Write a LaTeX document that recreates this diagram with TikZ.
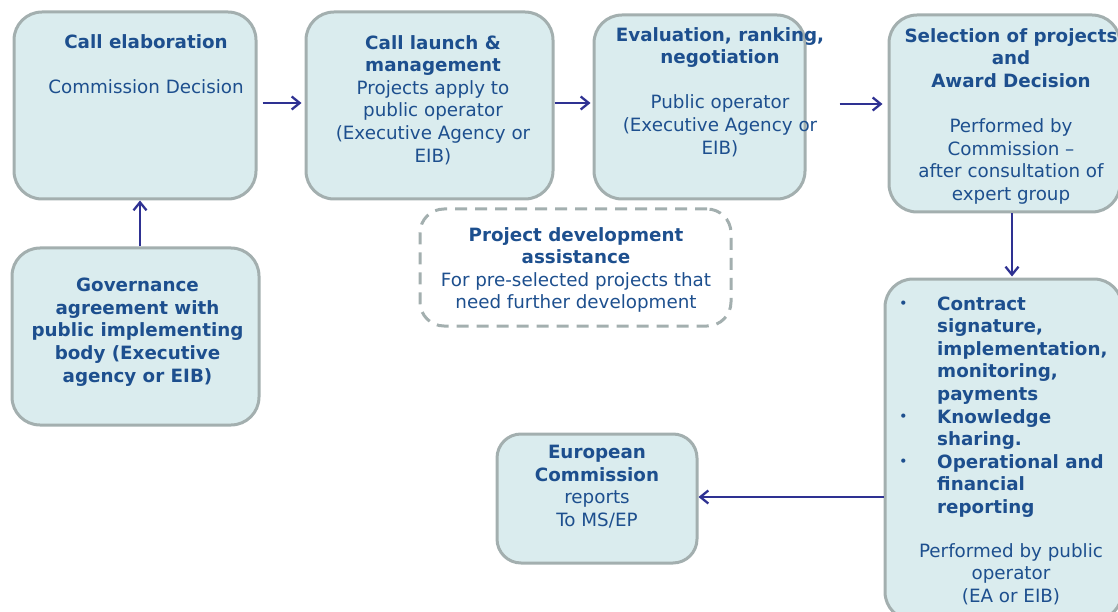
\documentclass[tikz,border=0pt]{standalone}
\usepackage{fontspec}
\setmainfont{DejaVu Sans}
\usetikzlibrary{arrows.meta}
\definecolor{boxfill}{HTML}{DAECEE}
\definecolor{boxline}{HTML}{A3AFAF}
\definecolor{txt}{HTML}{1D4F8E}
\definecolor{arr}{HTML}{2E3192}
\newcommand{\smbul}{\raisebox{2pt}{\fontsize{14.5}{14.5}\selectfont\textbullet}}
\begin{document}
\begin{tikzpicture}[x=1pt,y=-1pt,
  box/.style={draw=boxline, fill=boxfill, line width=3pt, rounded corners=28pt, inner sep=0pt},
  dashbox/.style={draw=boxline, line width=3pt, rounded corners=24pt, dash pattern=on 12pt off 8pt, inner sep=0pt},
  lbl/.style={text=txt, align=center, inner sep=0pt, anchor=north, font=\fontsize{18.3}{22.6}\selectfont},
  flow/.style={draw=arr, line width=2.3pt, -{Straight Barb[length=8pt,width=13pt,line width=2.3pt]}}]
\useasboundingbox (0,0) rectangle (1118,612);

% boxes
\node[box, minimum width=242pt, minimum height=187pt] (b1) at (135,105.5) {};
\node[box, minimum width=247pt, minimum height=187pt] (b2) at (429.5,105.5) {};
\node[box, minimum width=211pt, minimum height=184pt] (b3) at (699.5,107) {};
\node[box, minimum width=231pt, minimum height=197pt] (b4) at (1004.5,113.5) {};
\node[box, minimum width=247pt, minimum height=177pt] (b5) at (135.5,336.5) {};
\node[dashbox, minimum width=311pt, minimum height=117pt] (b6) at (575.5,267.5) {};
\node[box, rounded corners=24pt, minimum width=200pt, minimum height=129pt] (b7) at (597,498.5) {};
\node[box, minimum width=237pt, minimum height=341pt] (b8) at (1003.5,449.5) {};

% texts
\node[lbl] (t1) at (146,34) {\textbf{Call elaboration}\\[22.6pt]Commission Decision};
\node[lbl] (t2) at (433,35) {\textbf{Call launch \&}\\\textbf{management}\\Projects apply to\\public operator\\(Executive Agency or\\EIB)};
\node[lbl] (t3) at (720,27) {\textbf{Evaluation, ranking,}\\\textbf{negotiation}\\[22.6pt]Public operator\\(Executive Agency or\\EIB)};
\node[lbl] (t4) at (1011,28) {\textbf{Selection of projects}\\\textbf{and}\\\textbf{Award Decision}\\[22.6pt]Performed by\\Commission –\\after consultation of\\expert group};
\node[lbl] (t5) at (137.5,278) {\textbf{Governance}\\\textbf{agreement with}\\\textbf{public implementing}\\\textbf{body (Executive}\\\textbf{agency or EIB)}};
\node[lbl] (t6) at (576,227) {\textbf{Project development}\\\textbf{assistance}\\For pre-selected projects that\\need further development};
\node[lbl] (t7) at (597,445) {\textbf{European}\\\textbf{Commission}\\reports\\To MS/EP};
\node[lbl, anchor=north west, align=left] (t8) at (899,294) {\begin{tabular}{@{}p{38pt}@{}l@{}}
\smbul & \textbf{Contract}\\
 & \textbf{signature,}\\
 & \textbf{implementation,}\\
 & \textbf{monitoring,}\\
 & \textbf{payments}\\
\smbul & \textbf{Knowledge}\\
 & \textbf{sharing.}\\
\smbul & \textbf{Operational and}\\
 & \textbf{financial}\\
 & \textbf{reporting}
\end{tabular}};
\node[lbl] (t8b) at (1011,543) {Performed by public\\operator\\(EA or EIB)};

% connectors
\draw[flow, shorten <=5pt, shorten >=3pt] ([yshift=2.5pt]b1.east) -- ([yshift=2.5pt]b1.east -| b2.west);
\draw[flow, shorten >=2pt] ([yshift=2.5pt]b2.east) -- ([yshift=2.5pt]b2.east -| b3.west);
\draw[flow, shorten <=33pt, shorten >=5pt] (b3.east |- 0,104) -- (b4.west |- 0,104);
\draw[flow] (140,0 |- b5.north) -- (140,0 |- b1.south);
\draw[flow, shorten >=1pt] (1012,0 |- b4.south) -- (1012,0 |- b8.north);
\draw[flow] (b8.west |- 0,497) -- (b7.east |- 0,497);
\end{tikzpicture}
\end{document}
